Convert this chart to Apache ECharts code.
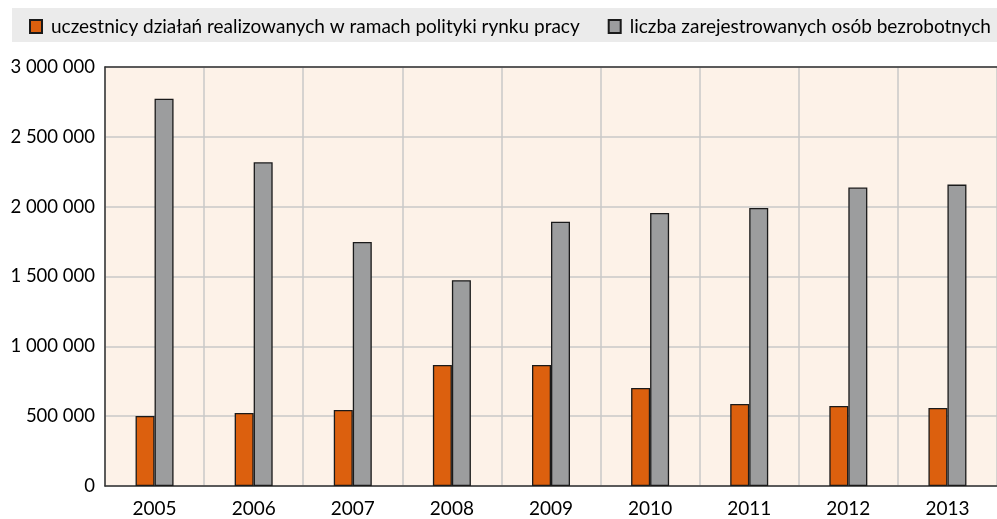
<!DOCTYPE html>
<html><head><meta charset="utf-8">
<script src="https://cdn.jsdelivr.net/npm/echarts@6/dist/echarts.min.js"></script>
<style>html,body{margin:0;padding:0;background:#fff}#c{width:997px;height:519px}</style>
</head><body><div id="c"></div>
<script>
const categories = ['2005','2006','2007','2008','2009','2010','2011','2012','2013'];
const seriesNames = ['uczestnicy działań realizowanych w ramach polityki rynku pracy','liczba zarejestrowanych osób bezrobotnych'];
const participants = [501000, 523000, 544000, 866000, 866000, 702000, 587000, 573000, 558000];
const unemployed = [2773000, 2318000, 1747000, 1474000, 1892000, 1955000, 1990000, 2137000, 2158000];
const yTicks = [0, 500000, 1000000, 1500000, 2000000, 2500000, 3000000];

const FONT = 'Lato';
function fmt(v){ return String(v).replace(/\B(?=(\d{3})+(?!\d))/g, ' '); }

const chart = echarts.init(document.getElementById('c'));
chart.setOption({
  animation: false,
  backgroundColor: '#ffffff',
  graphic: [{type:'rect', shape:{x:12, y:8, width:985, height:34}, style:{fill:'#ebebeb'}, z:-1}],
  legend: {
    left: 24, top: 12, itemWidth: 12, itemHeight: 13, itemGap: 28,
    icon: 'rect',
    textStyle: {fontFamily: FONT, fontSize: 19, color: '#000', padding:[0,0,0,4]},
    data: seriesNames
  },
  grid: {left: 105, right: 0, top: 67, bottom: 33, show: true, backgroundColor: '#fdf2e8', borderWidth: 0},
  xAxis: [{
    type: 'category', data: categories, boundaryGap: true,
    axisLine: {lineStyle: {color: '#333', width: 1.5}},
    axisTick: {show: false},
    axisLabel: {fontFamily: FONT, fontSize: 19, color: '#000', margin: 13},
    splitLine: {show: true, lineStyle: {color: '#c8c8c8', width: 1.5}}
  },{
    type: 'category', data: categories, position: 'top',
    axisLine: {lineStyle: {color: '#333', width: 1.5}},
    axisTick: {show: false}, axisLabel: {show: false}
  }],
  yAxis: {
    type: 'value', min: 0, max: 3000000, interval: 500000,
    axisLine: {show: true, lineStyle: {color: '#333', width: 1.5}},
    axisTick: {show: false},
    axisLabel: {fontFamily: FONT, fontSize: 18.5, color: '#000', margin: 10, formatter: v => fmt(v)},
    splitLine: {lineStyle: {color: '#c8c8c8', width: 1.5}}
  },
  series: [{
    name: seriesNames[0], type: 'bar', data: participants, barWidth: 19, barGap: '0%',
    itemStyle: {color: '#dc600e', borderColor: '#1a1a1a', borderWidth: 1.3}
  },{
    name: seriesNames[1], type: 'bar', data: unemployed, barWidth: 19, barGap: '0%',
    itemStyle: {color: '#9c9d9e', borderColor: '#1a1a1a', borderWidth: 1.3}
  }]
});
</script></body></html>
